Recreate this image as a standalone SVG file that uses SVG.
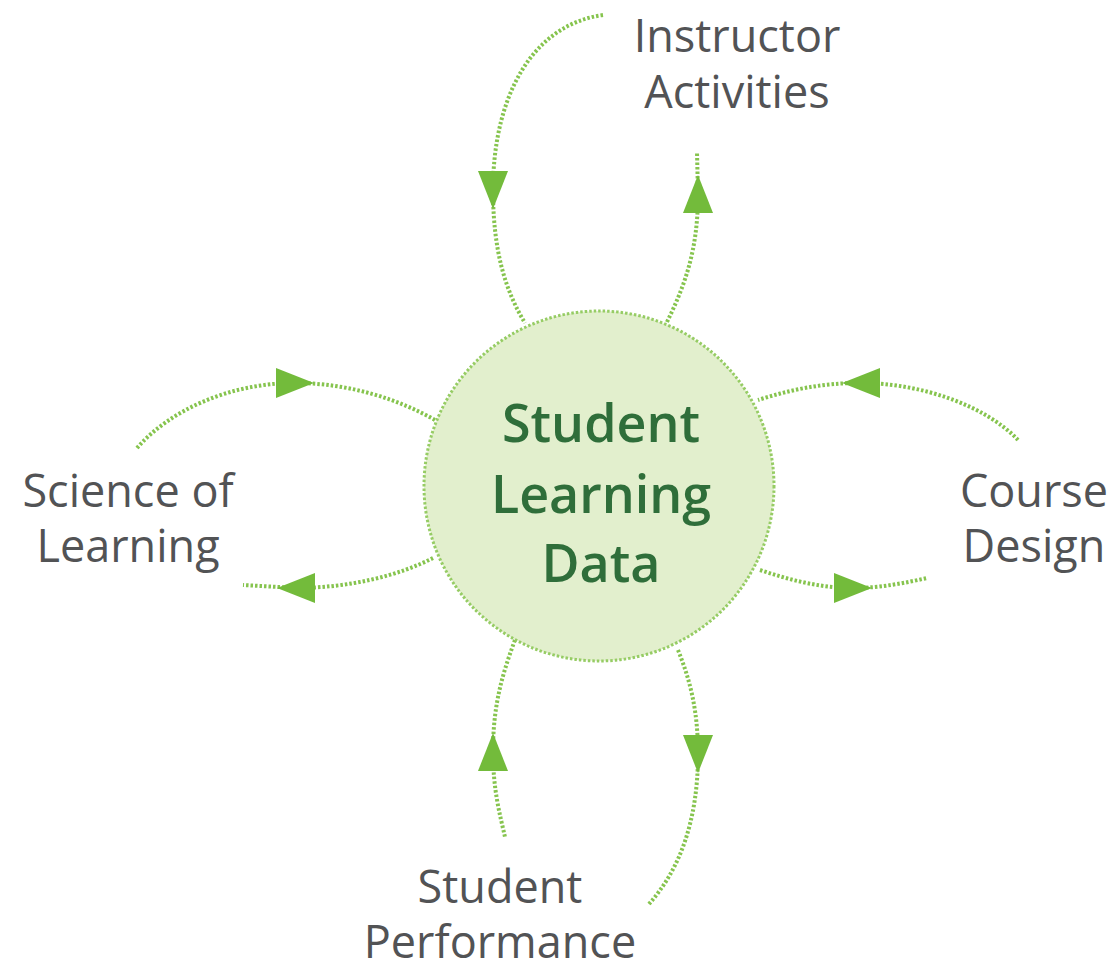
<svg xmlns="http://www.w3.org/2000/svg" xmlns:xlink="http://www.w3.org/1999/xlink" width="1114" height="969" viewBox="0 0 1114 969">
<style>
.bg{fill:#ffffff}
.link{fill:none;stroke:#86c44e;stroke-width:4;stroke-dasharray:2.5 2}
.ah{fill:#73bb3b}
.hub{fill:#e2efcd;stroke:#96cc64;stroke-width:3;stroke-dasharray:2.5 2}
.hubtxt{font-family:"Open Sans","Noto Sans",sans-serif;font-weight:600;font-size:52px;fill:#2f6e3a;text-anchor:middle}
.lbl{font-family:"Open Sans","Noto Sans",sans-serif;font-weight:500;font-size:45px;fill:#525355;text-anchor:middle}
</style>
<defs>
<path id="arrow" d="M-19,-15 L19,0 L-19,15 Z"/>
</defs>
<rect class="bg" x="0" y="0" width="1114" height="969"/>
<g id="connectors">
<path class="link" d="M603,15 C530,25 493,100 493,190 C493,250 505,290 525,323"/>
<path class="link" d="M667,322 C685,285 698,250 698,194 L697,152"/>
<path class="link" d="M137,448 C170,410 230,383 295,383 C350,383 400,400 435,420"/>
<path class="link" d="M433,558 C400,575 350,588 296,588 L243,585"/>
<path class="link" d="M1018,440 C985,405 920,383 861,383 C820,383 790,390 758,400"/>
<path class="link" d="M760,570 C790,580 820,588 853,588 C880,588 905,583 927,578"/>
<path class="link" d="M515,640 C500,680 493,710 493,752 C493,790 500,815 505,837"/>
<path class="link" d="M678,650 C690,680 698,710 698,754 C698,820 680,870 648,905"/>
<use class="ah" xlink:href="#arrow" transform="translate(493,190) rotate(90)"/>
<use class="ah" xlink:href="#arrow" transform="translate(698,194) rotate(-90)"/>
<use class="ah" xlink:href="#arrow" transform="translate(295,383) rotate(0)"/>
<use class="ah" xlink:href="#arrow" transform="translate(296,588) rotate(180)"/>
<use class="ah" xlink:href="#arrow" transform="translate(861,383) rotate(180)"/>
<use class="ah" xlink:href="#arrow" transform="translate(853,588) rotate(0)"/>
<use class="ah" xlink:href="#arrow" transform="translate(493,752) rotate(-90)"/>
<use class="ah" xlink:href="#arrow" transform="translate(698,754) rotate(90)"/>
</g>
<g id="node-hub">
<circle class="hub" cx="599" cy="486" r="175"/>
<text class="hubtxt" x="601" y="442">Student</text>
<text class="hubtxt" x="601" y="513">Learning</text>
<text class="hubtxt" x="601" y="582">Data</text>
</g>
<g id="node-instructor">
<text class="lbl" x="737" y="52">Instructor</text>
<text class="lbl" x="737" y="108">Activities</text>
</g>
<g id="node-science">
<text class="lbl" x="128" y="507">Science of</text>
<text class="lbl" x="128" y="562">Learning</text>
</g>
<g id="node-course">
<text class="lbl" x="1034" y="507">Course</text>
<text class="lbl" x="1034" y="562">Design</text>
</g>
<g id="node-student">
<text class="lbl" x="500" y="903">Student</text>
<text class="lbl" x="500" y="958">Performance</text>
</g>
</svg>
